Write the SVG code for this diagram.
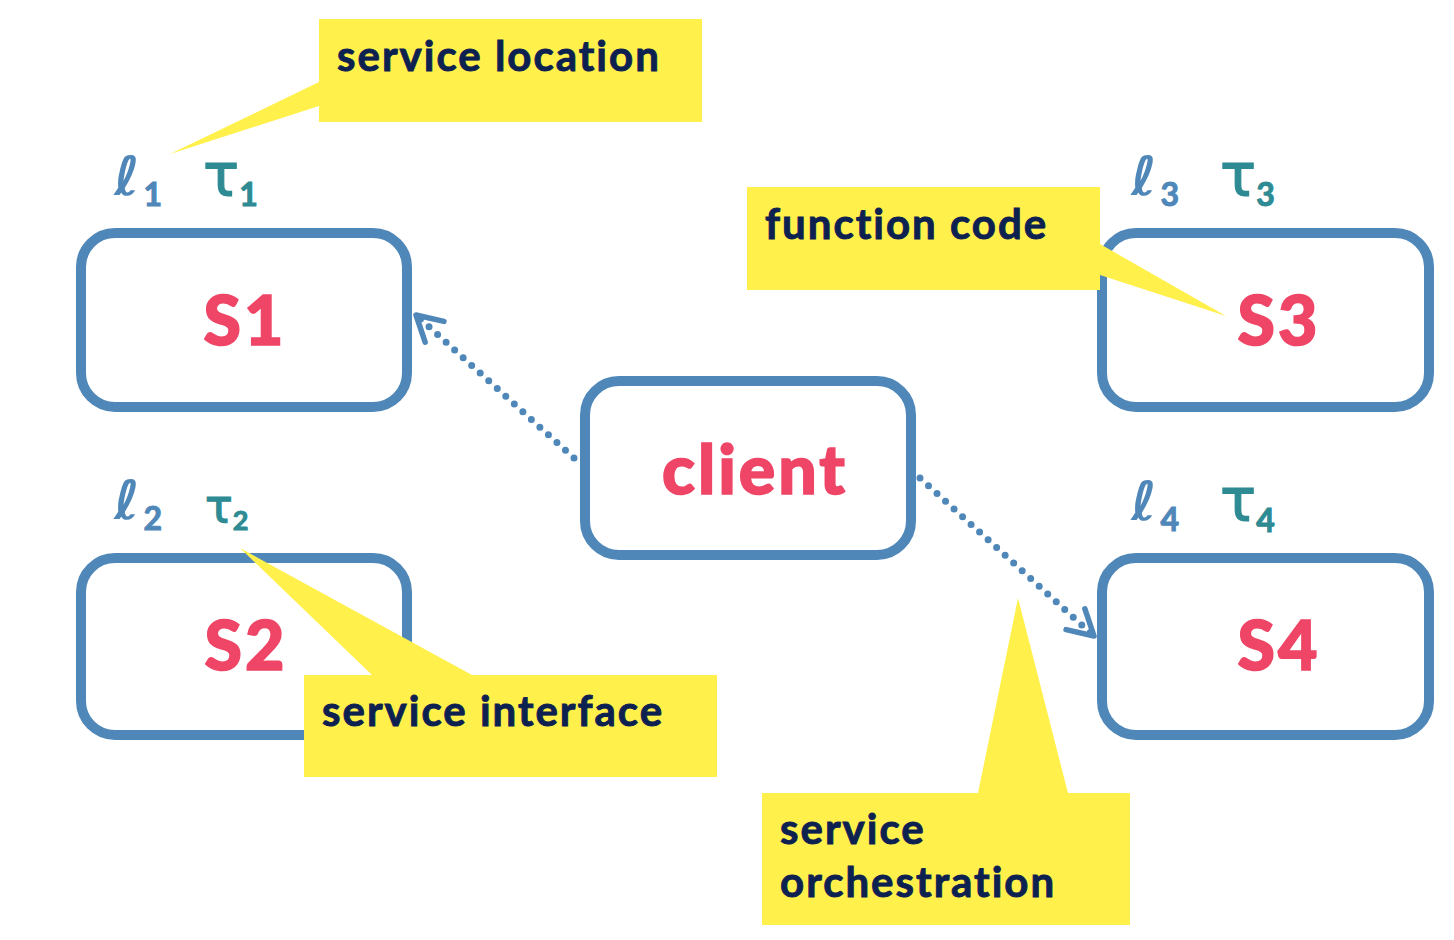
<svg xmlns="http://www.w3.org/2000/svg" width="1454" height="940" viewBox="0 0 1454 940">
<defs>
<style>
.box{fill:#ffffff;stroke:#4f87b9;stroke-width:10}
.nlabel{font-family:Lato,"Liberation Sans",sans-serif;font-weight:900;fill:#ef4566;stroke:#ef4566;stroke-width:1.6;text-anchor:middle;font-size:68px;letter-spacing:3px}
.call{fill:#fff04c}
.ctext{font-family:Lato,"Liberation Sans",sans-serif;font-weight:bold;font-size:42px;letter-spacing:2px;fill:#0d2150;stroke:#0d2150;stroke-width:0.9}
.ell{font-family:"DejaVu Sans","Liberation Serif",sans-serif;font-style:oblique;font-weight:bold;fill:#4f87b9}
.tau{font-family:"DejaVu Sans","Liberation Sans",sans-serif;font-weight:normal;fill:#2e8b93;stroke:#2e8b93;stroke-width:1.2}
.sub{font-family:Lato,"Liberation Sans",sans-serif;font-style:normal;font-weight:bold;stroke-width:1}
.dot{fill:none;stroke:#4f87b9;stroke-width:7;stroke-linecap:round;stroke-dasharray:0 11.5}
</style>
<marker id="arr" markerUnits="userSpaceOnUse" viewBox="-30 -20 40 40" refX="0" refY="0" markerWidth="40" markerHeight="40" orient="auto">
<path d="M -25 -14 L 0 0 L -25 14" fill="none" stroke="#4f87b9" stroke-width="5.5" stroke-linecap="round" stroke-linejoin="round"/>
</marker>
</defs>
<rect width="1454" height="940" fill="#ffffff"/>

<g id="node-s1">
<rect class="box" x="81" y="233" width="326" height="174" rx="34"/>
<text class="nlabel" x="245" y="345">S1</text>
<text class="ell" x="114" y="195" font-size="54">ℓ<tspan class="sub" dx="4" dy="11" font-size="32" stroke="#4f87b9">1</tspan></text>
<text class="tau" x="203" y="196" font-size="60">τ<tspan class="sub" dx="0" dy="10" font-size="32">1</tspan></text>
</g>

<g id="node-s2">
<rect class="box" x="81" y="558" width="326" height="177" rx="34"/>
<text class="nlabel" x="246" y="670">S2</text>
<text class="ell" x="114" y="519" font-size="54">ℓ<tspan class="sub" dx="4" dy="11" font-size="32" stroke="#4f87b9">2</tspan></text>
<text class="tau" x="205" y="522" font-size="46">τ<tspan class="sub" dx="0" dy="8" font-size="27">2</tspan></text>
</g>

<g id="node-client">
<rect class="box" x="585" y="381" width="326" height="174" rx="34"/>
<text class="nlabel" x="755" y="494">client</text>
</g>

<g id="node-s3">
<rect class="box" x="1102" y="233" width="327" height="174" rx="34"/>
<text class="nlabel" x="1279" y="345">S3</text>
<text class="ell" x="1131" y="195" font-size="54">ℓ<tspan class="sub" dx="4" dy="11" font-size="32" stroke="#4f87b9">3</tspan></text>
<text class="tau" x="1220" y="196" font-size="60">τ<tspan class="sub" dx="0" dy="10" font-size="32">3</tspan></text>
</g>

<g id="node-s4">
<rect class="box" x="1102" y="558" width="327" height="177" rx="34"/>
<text class="nlabel" x="1279" y="670">S4</text>
<text class="ell" x="1131" y="520" font-size="54">ℓ<tspan class="sub" dx="4" dy="11" font-size="32" stroke="#4f87b9">4</tspan></text>
<text class="tau" x="1220" y="521" font-size="60">τ<tspan class="sub" dx="0" dy="11" font-size="32">4</tspan></text>
</g>

<g id="connectors">
<path class="dot" d="M 574 458 L 416 315" marker-end="url(#arr)"/>
<path class="dot" d="M 920 478 L 1094 636" marker-end="url(#arr)"/>
</g>

<g id="callout-service-location">
<polygon class="call" points="319,19 702,19 702,122 319,122 319,106 170,154 319,82"/>
<text class="ctext" x="337" y="71">service location</text>
</g>

<g id="callout-function-code">
<polygon class="call" points="747,187 1100,187 1100,244 1226,316 1100,275 1100,290 747,290"/>
<text class="ctext" x="765" y="239">function code</text>
</g>

<g id="callout-service-interface">
<polygon class="call" points="304,675 372,675 240,548 472,675 717,675 717,777 304,777"/>
<text class="ctext" x="322" y="726">service interface</text>
</g>

<g id="callout-service-orchestration">
<polygon class="call" points="762,793 978,793 1018,598 1068,793 1130,793 1130,925 762,925"/>
<text class="ctext" x="780" y="844">service</text>
<text class="ctext" x="780" y="897">orchestration</text>
</g>
</svg>
